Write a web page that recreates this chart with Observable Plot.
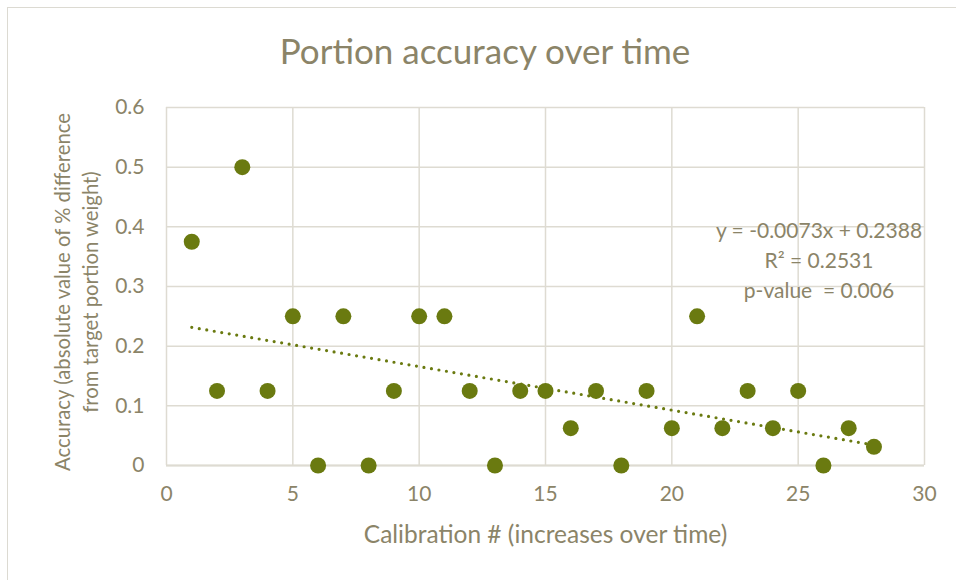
<!DOCTYPE html>
<html>
<head>
<meta charset="utf-8">
<script src="https://cdn.jsdelivr.net/npm/d3@7"></script>
<script src="https://cdn.jsdelivr.net/npm/@observablehq/plot@0.6"></script>
<style>
  body { margin: 0; background: #fff; }
  #wrap { position: relative; width: 956px; height: 580px; overflow: hidden; font-family: Lato, "Open Sans", sans-serif; color: #8b8468; }
  #border { position: absolute; left: 7px; top: 7px; width: 960px; height: 600px; border: 1px solid #dcdad2; box-sizing: border-box; }
  #title { position: absolute; left: 0; width: 970px; top: 29px; text-align: center; font-size: 35px; }
  #note { position: absolute; left: 680px; width: 278px; top: 215px; text-align: center; font-size: 21px; line-height: 30px; }
  #ylabel { position: absolute; left: 76px; top: 292px; width: 0; height: 0; }
  #ylabel div { position: absolute; transform: translate(-50%, -50%) rotate(-90deg); white-space: nowrap; text-align: center; font-size: 20.3px; line-height: 28px; }
  #chart { position: absolute; left: 0; top: 0; }
</style>
</head>
<body>
<div id="wrap">
  <div id="border"></div>
  <div id="chart"></div>
  <div id="title">Portion accuracy over time</div>
  <div id="note">y = -0.0073x + 0.2388<br>R² = 0.2531<br>p-value&nbsp; = 0.006</div>
  <div id="ylabel"><div>Accuracy (absolute value of % difference<br>from target portion weight)</div></div>
</div>
<script>
const calibration = [1,2,3,4,5,6,7,8,9,10,11,12,13,14,15,16,17,18,19,20,21,22,23,24,25,26,27,28];
const accuracy = [0.375,0.125,0.5,0.125,0.25,0,0.25,0,0.125,0.25,0.25,0.125,0,0.125,0.125,0.0625,0.125,0,0.125,0.0625,0.25,0.0625,0.125,0.0625,0.125,0,0.0625,0.03125];
const xTicks = [0,5,10,15,20,25,30];
const yTicks = [0,0.1,0.2,0.3,0.4,0.5,0.6];
const slope = -0.0073, intercept = 0.2388;
const trendX = [1, 28];

const points = calibration.map((c, i) => ({x: c, y: accuracy[i]}));
const trend = trendX.map(x => ({x, y: slope * x + intercept}));

const textColor = "#8b8468";
const gridColor = "#dedbd2";
const pointColor = "#6a7a10";
const yFmt = d => d === 0 ? "0" : d3.format(".1f")(d);

const chart = Plot.plot({
  width: 956,
  height: 580,
  marginLeft: 166,
  marginRight: 32,
  marginTop: 107,
  marginBottom: 115,
  style: { fontFamily: "Lato, 'Open Sans', sans-serif", fontSize: "21px", color: textColor, background: "transparent" },
  x: { domain: [0, 30] },
  y: { domain: [0, 0.6] },
  marks: [
    Plot.gridX(xTicks, { stroke: gridColor, strokeOpacity: 1, strokeWidth: 1.5 }),
    Plot.gridY(yTicks, { stroke: gridColor, strokeOpacity: 1, strokeWidth: 1.5 }),
    Plot.ruleY([0], { stroke: gridColor, strokeWidth: 2 }),
    Plot.line(trend, { x: "x", y: "y", stroke: pointColor, strokeWidth: 3.2, strokeDasharray: "0 7.6", strokeLinecap: "round" }),
    Plot.dot(points, { x: "x", y: "y", r: 8, fill: pointColor, stroke: "none" }),
    Plot.axisX({ ticks: xTicks, tickSize: 0, tickPadding: 21, label: "Calibration # (increases over time)", labelArrow: "none", labelAnchor: "center", labelOffset: 77, fontSize: 21 }),
    Plot.axisY({ ticks: yTicks, tickSize: 0, tickPadding: 22, label: null, tickFormat: yFmt, fontSize: 21 })
  ]
});
d3.select(chart).selectAll("[aria-label='x-axis label']").attr("font-size", 24.5);
document.getElementById("chart").appendChild(chart);
</script>
</body>
</html>
